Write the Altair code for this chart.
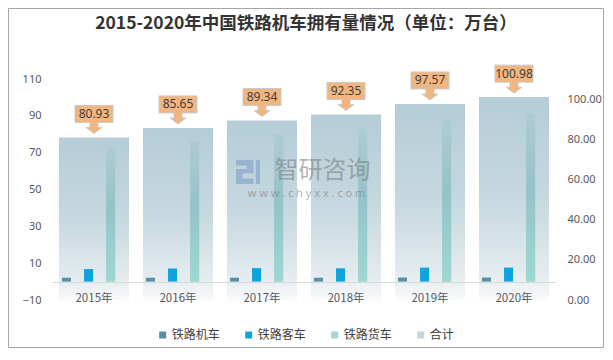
import altair as alt
import pandas as pd

# ---- data ----
years = ["2015年", "2016年", "2017年", "2018年", "2019年", "2020年"]
loco = [2.1, 2.1, 2.1, 2.1, 2.2, 2.2]            # 铁路机车
passenger = [6.8, 7.1, 7.3, 7.2, 7.6, 7.6]       # 铁路客车
freight = [72.3, 76.4, 79.9, 83.0, 87.8, 91.2]   # 铁路货车
total = [80.93, 85.65, 89.34, 92.35, 97.57, 100.98]  # 合计 (right axis)
series = ["铁路机车", "铁路客车", "铁路货车"]
legend_names = ["铁路机车", "铁路客车", "铁路货车", "合计"]
legend_colors = ["#5b8fa5", "#0ea3dc", "#a2d8d4", "#c3d6de"]
left_ticks = [-10, 10, 30, 50, 70, 90, 110]
right_ticks = [0, 20, 40, 60, 80, 100]
title_text = "2015-2020年中国铁路机车拥有量情况（单位：万台）"
wm_name = "智研咨询"
wm_url = "w w w . c h y x x . c o m"

W, H = 504, 221
CJK = "Noto Sans CJK SC"
LAT = "Noto Sans"

total_df = pd.DataFrame({"year": years, "total": total})
long_df = pd.DataFrame({
    "year": years * 3,
    "series": [s for s in series for _ in years],
    "value": loco + passenger + freight,
})
one = pd.DataFrame({"a": [0]})

x_enc = alt.X(
    "year:N", sort=years,
    scale=alt.Scale(paddingInner=1 / 6, paddingOuter=1 / 12),
    axis=alt.Axis(title=None, labelAngle=0, ticks=False, domainColor="#d9d9d9",
                  labelFont=CJK, labelFontSize=11.5, labelColor="#595959",
                  labelPadding=10, offset=-18, zindex=1),
)
xoff_enc = alt.XOffset(
    "series:N",
    scale=alt.Scale(domain=series, paddingInner=0.591, paddingOuter=0.38, align=0.176),
)
y_total = alt.Y(
    "total:Q",
    scale=alt.Scale(domain=[0, 110], nice=False),
    axis=alt.Axis(orient="right", values=right_ticks, format=".2f", title=None,
                  grid=False, ticks=False, domain=False, labelFont=LAT,
                  labelFontSize=11, labelColor="#595959", labelPadding=11),
)
y_small = alt.Y(
    "value:Q",
    scale=alt.Scale(domain=[-10, 110], nice=False),
    axis=alt.Axis(orient="left", values=left_ticks, title=None, grid=False,
                  ticks=False, domain=False, labelFont=LAT, labelFontSize=11,
                  labelColor="#595959", labelPadding=11),
)

total_grad = alt.Gradient(
    gradient="linear", x1=0, x2=0, y1=0, y2=1,
    stops=[alt.GradientStop(color="#b5cdd7", offset=0),
           alt.GradientStop(color="#c6d8e0", offset=0.5),
           alt.GradientStop(color="#e5ecf0", offset=0.88),
           alt.GradientStop(color="#f8fafb", offset=1)],
)
freight_grad = alt.Gradient(
    gradient="linear", x1=0, x2=0, y1=0, y2=1,
    stops=[alt.GradientStop(color="#afcbd2", offset=0),
           alt.GradientStop(color="#95c3c8", offset=0.45),
           alt.GradientStop(color="#9ed7d2", offset=1)],
)

callout_path = ("M-1,-1.684 L1,-1.684 L1,-0.789 L0.21,-0.789 L0.21,-0.526 "
                "L0.42,-0.526 L0,-0.21 L-0.42,-0.526 L-0.21,-0.526 L-0.21,-0.789 "
                "L-1,-0.789 Z")

total_bars = alt.Chart(total_df).mark_bar(color=total_grad).encode(x=x_enc, y=y_total)
callouts = alt.Chart(total_df).mark_point(
    shape=callout_path, size=1444, filled=True, fill="#f1b57f",
    stroke="#c9c9c9", strokeWidth=1, opacity=1,
).encode(x=x_enc, y=y_total)
callout_text = alt.Chart(total_df).mark_text(
    dy=-23.5, baseline="middle", align="center", font=LAT, fontSize=12, color="#404040",
).encode(x=x_enc, y=y_total, text=alt.Text("total:Q", format=".2f"))

small_bars = alt.Chart(long_df).mark_bar().encode(
    x=x_enc, xOffset=xoff_enc, y=y_small,
    color=alt.Color(
        "series:N",
        scale=alt.Scale(domain=legend_names, range=legend_colors),
        legend=alt.Legend(title=None, orient="none", legendX=104.7, legendY=250,
                          direction="horizontal", columns=4, symbolType="square",
                          symbolSize=49, symbolStrokeWidth=0, labelFont=CJK,
                          labelFontSize=12, labelColor="#404040", labelOffset=3,
                          columnPadding=22, gridAlign="all"),
    ),
)
freight_bars = alt.Chart(long_df).transform_filter(
    alt.datum.series == "铁路货车"
).mark_bar(color=freight_grad).encode(x=x_enc, xOffset=xoff_enc, y=y_small)

left_part = alt.layer(total_bars, callouts, callout_text)
right_part = alt.layer(small_bars, freight_bars)

logo_path = ("M-1,-1 L0.45,-1 L0.45,0.1 L-0.45,0.1 L-0.45,0.55 L0.45,0.55 L0.45,1 "
             "L-1,1 L-1,-0.25 L-0.1,-0.25 L-0.1,-0.55 L-1,-0.55 Z "
             "M0.65,-1 L1,-1 L1,1 L0.65,1 Z")
wm_logo = alt.Chart(one).mark_point(
    shape=logo_path, size=576, filled=True, fill="#7f9fc6", opacity=0.6, strokeWidth=0,
).encode(x=alt.value(196), y=alt.value(93))
wm_text = alt.Chart(one).mark_text(
    text=wm_name, font=CJK, fontSize=24, color="#7a7a7a", opacity=0.55,
    align="center", baseline="middle",
).encode(x=alt.value(270.5), y=alt.value(92))
wm_url_t = alt.Chart(one).mark_text(
    text=wm_url, font=LAT, fontSize=11, color="#7a7a7a", opacity=0.55,
    align="center", baseline="middle",
).encode(x=alt.value(254.5), y=alt.value(115))

title = alt.Chart(one).mark_text(
    text=title_text, font=CJK, fontSize=17.5, fontWeight="bold", color="#333333",
    align="center", baseline="middle",
).encode(x=alt.value(254), y=alt.value(-55))

border = alt.Chart(one).mark_rect(
    fill="transparent", stroke="#a6a6a6", strokeWidth=1,
).encode(x=alt.value(-43.5), x2=alt.value(W + 47.5),
         y=alt.value(-70.5), y2=alt.value(H + 47.5))

chart = alt.layer(
    left_part, right_part, wm_logo, wm_text, wm_url_t, title, border,
).resolve_scale(y="independent").properties(
    width=W, height=H,
    autosize=alt.AutoSizeParams(type="none"),
    padding={"left": 44, "top": 71, "right": 48, "bottom": 48},
).configure_view(stroke=None)

chart.save("out.html", embed_options={"renderer": "svg", "actions": False})
